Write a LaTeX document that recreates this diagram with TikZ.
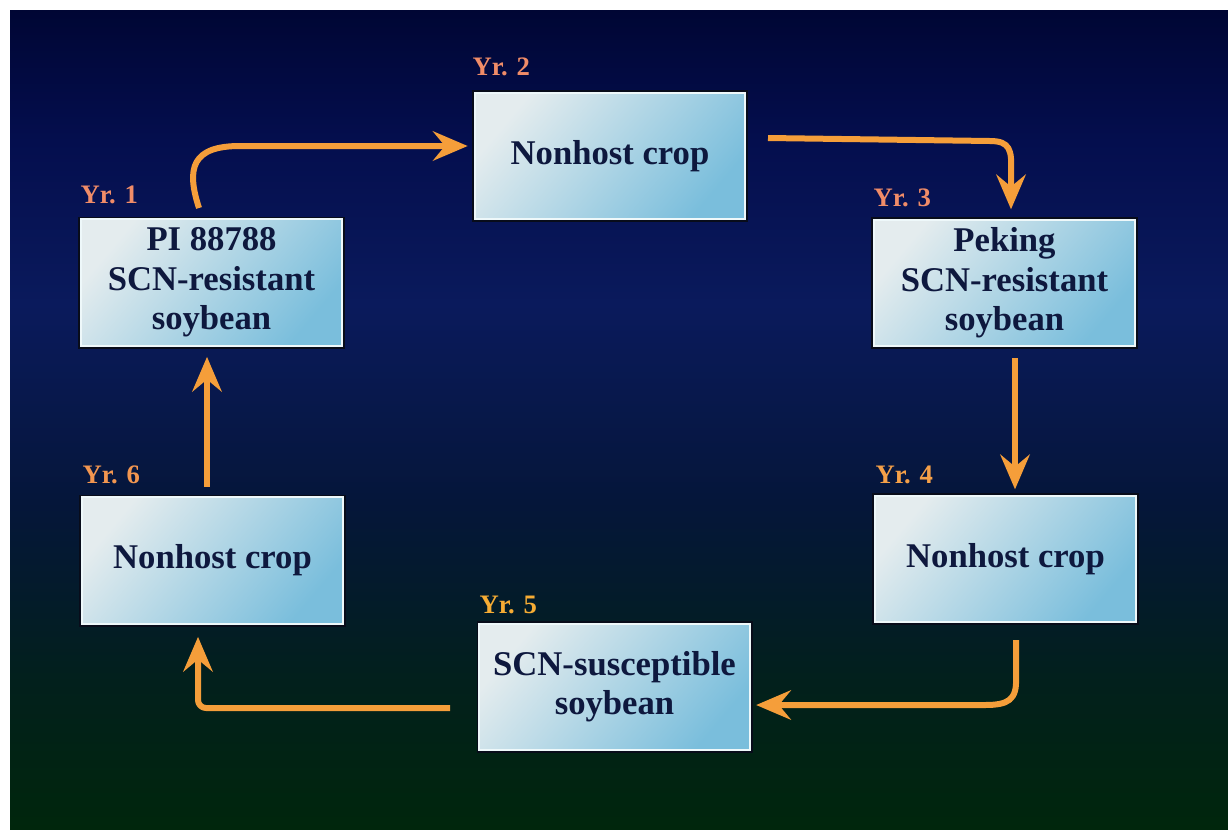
\documentclass[tikz,border=0pt]{standalone}
\usepackage{fontspec}
\setmainfont{Liberation Serif}
\usetikzlibrary{arrows.meta,calc}

\definecolor{skyA}{RGB}{0,38,12}
\definecolor{skyB}{RGB}{2,32,28}
\definecolor{skyC}{RGB}{5,22,58}
\definecolor{skyD}{RGB}{10,26,92}
\definecolor{skyE}{RGB}{4,14,78}
\definecolor{skyF}{RGB}{0,6,52}
\definecolor{yrsalmon}{RGB}{240,140,104}
\definecolor{yrfour}{RGB}{245,160,72}
\definecolor{yrfive}{RGB}{246,172,52}
\definecolor{yrsix}{RGB}{242,150,80}
\definecolor{flowor}{RGB}{245,158,58}
% the box of the path spans 25bp to 75bp of the shading
\pgfdeclareverticalshading{nightsky}{100bp}{color(0bp)=(skyA); color(25bp)=(skyA); color(34bp)=(skyB); color(45bp)=(skyC); color(57bp)=(skyD); color(67bp)=(skyE); color(75bp)=(skyF); color(100bp)=(skyF)}

\tikzset{every picture/.style={line width=0.75pt}}
\tikzset{
  cropbox/.style={preaction={draw={rgb,255:red,8;green,12;blue,26}, line width=4pt},
    draw={rgb,255:red,238;green,248;blue,250}, line width=1.5pt,
    top color={rgb,255:red,228;green,236;blue,238}, bottom color={rgb,255:red,122;green,190;blue,220}, shading angle=50,
    text={rgb,255:red,14;green,24;blue,62}, font=\bfseries\fontsize{26}{29.5}\selectfont,
    align=center, minimum width=196pt, minimum height=95pt, inner sep=2pt},
  yrlabel/.style={text=#1, font=\bfseries\fontsize{20}{24}\selectfont, inner sep=0pt, anchor=base west},
  yrlabel/.default=yrsalmon,
  flow/.style={draw=flowor, line width=4.5pt, line join=round,
    -{Stealth[length=26pt,width=22pt,inset=9pt]}}
}

\begin{document}
\begin{tikzpicture}[x=0.75pt,y=0.75pt,yscale=-1,xscale=1]
\useasboundingbox (0,0) rectangle (1228,829);
%Background
\shade [shading=nightsky] (10,10) rectangle (1228,829);

% Crop boxes
\node [cropbox] (crop1) at (211.5,282.5) {PI 88788\\SCN-resistant\\soybean};
\node [cropbox, minimum width=203pt] (crop2) at (610,156) {Nonhost crop};
\node [cropbox] (crop3) at (1004.5,283) {Peking\\SCN-resistant\\soybean};
\node [cropbox] (crop4) at (1005.5,559) {Nonhost crop};
\node [cropbox, minimum width=203pt] (crop5) at (614.5,687) {SCN-susceptible\\soybean};
\node [cropbox] (crop6) at (212.5,560.5) {Nonhost crop};

% Text Node
\node [yrlabel] (yr1) at (80,203) {Yr. 1};
% Text Node
\node [yrlabel] (yr2) at (472,75) {Yr. 2};
% Text Node
\node [yrlabel] (yr3) at (873,206) {Yr. 3};
% Text Node
\node [yrlabel=yrfour] (yr4) at (875,483) {Yr. 4};
% Text Node
\node [yrlabel=yrfive] (yr5) at (479,613) {Yr. 5};
% Text Node
\node [yrlabel=yrsix] (yr6) at (82,483) {Yr. 6};

% free ends and bends of the arrows
\coordinate (t1) at (199,208);
\coordinate (k1) at (240,146);
\coordinate (t2) at (768,138);
\coordinate (k2) at (1011,172);
\coordinate (t3) at (1015,358);
\coordinate (t4) at (1016,640);
\coordinate (k4) at (985,705);
\coordinate (t5) at (450,708);
\coordinate (k5) at (198,708);
\coordinate (t6) at (207,487);

%Arrows
\draw [flow, shorten >=4.5pt] (t1) .. controls (186,168) and (192,146) .. (k1) -- (k1 -| crop2.west);
\draw [flow, shorten >=7pt] (t2) -- (990,141) .. controls (1010,141) and (1012,150) .. (k2) -- (k2 |- crop3.north);
\draw [flow, shorten >=4pt] (t3) -- (t3 |- crop4.north);
\draw [flow, shorten >=4pt] (t4) -- (1016,678) .. controls (1017,700) and (1008,705) .. (k4) -- (k4 -| crop5.east);
\draw [flow, rounded corners=6pt, shorten >=9pt] (t5) -- (k5) -- (k5 |- crop6.south);
\draw [flow, shorten >=7.5pt] (t6) -- (t6 |- crop1.south);

\end{tikzpicture}
\end{document}
